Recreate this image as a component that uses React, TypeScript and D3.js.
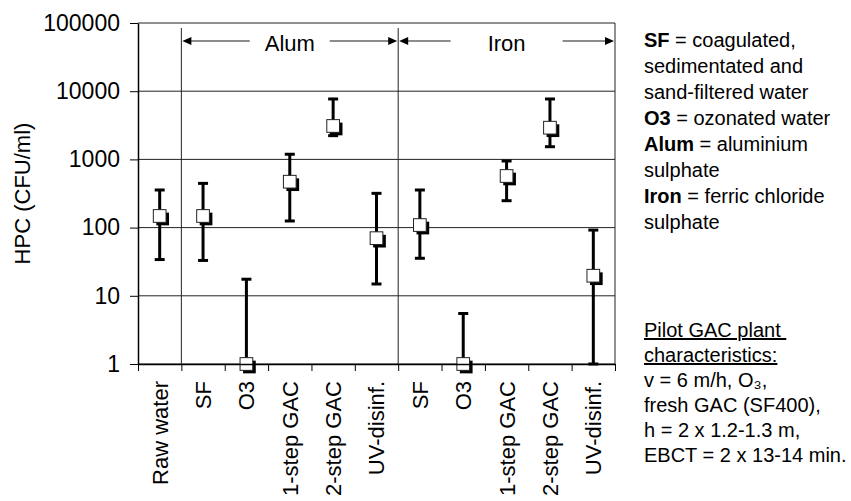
import { useRef, useEffect } from 'react';
import * as d3 from 'd3';

// HPC per treatment step (CFU/ml)
const CATEGORIES = ['Raw water', 'SF', 'O3', '1-step GAC', '2-step GAC', 'UV-disinf.', 'SF', 'O3', '1-step GAC', '2-step GAC', 'UV-disinf.'];
const MEANS = [148, 148, 1, 471, 3090, 70, 109, 1, 571, 2917, 19.7];
const UPPER = [356, 445, 17.5, 1190, 7690, 318, 356, 5.5, 948, 7690, 92];
const LOWER = [34, 33, 1, 125, 2230, 14.9, 35.5, 1, 248, 1535, 1];
const Y_TICKS = [1, 10, 100, 1000, 10000, 100000];

const GROUP_LABELS = ['Alum', 'Iron'];
const GROUP_START = [1, 6];
const GROUP_END = [6, 11];

const NOTES = [
  { bold: 'SF', text: ' = coagulated,' },
  { bold: '', text: 'sedimentated and' },
  { bold: '', text: 'sand-filtered water' },
  { bold: 'O3', text: ' = ozonated water' },
  { bold: 'Alum', text: ' = aluminium' },
  { bold: '', text: 'sulphate' },
  { bold: 'Iron', text: ' = ferric chloride' },
  { bold: '', text: 'sulphate' },
];
const PILOT_HEADER = ['Pilot GAC plant ', 'characteristics:'];
const PILOT_LINES = ['v = 6 m/h, O\u2083,', 'fresh GAC (SF400),', 'h = 2 x 1.2-1.3 m,', 'EBCT = 2 x 13-14 min.'];

const W = 851;
const H = 501;
const PLOT = { left: 138, right: 615, top: 23, bottom: 364 };
const FONT = 'Arial, "Liberation Sans", sans-serif';

export default function App() {
  const svgRef = useRef<SVGSVGElement>(null);

  useEffect(() => {
    const svg = svgRef.current;
    if (!svg) return;
    const root = d3.select(svg);
    root.selectAll('*').remove();

    const x = d3.scaleBand<number>().domain(d3.range(CATEGORIES.length)).range([PLOT.left, PLOT.right]);
    const xEdge = d3.scaleLinear().domain([0, CATEGORIES.length]).range([PLOT.left, PLOT.right]);
    const y = d3.scaleLog().domain([1, 100000]).range([PLOT.bottom, PLOT.top]);
    const cx = (i: number) => x(i)! + x.bandwidth() / 2;

    // Grid
    Y_TICKS.forEach(t => {
      root.append('line').attr('x1', PLOT.left).attr('x2', PLOT.right)
        .attr('y1', y(t)).attr('y2', y(t)).attr('stroke', '#222').attr('stroke-width', 1);
    });
    root.append('line').attr('x1', PLOT.right).attr('x2', PLOT.right)
      .attr('y1', PLOT.top).attr('y2', PLOT.bottom).attr('stroke', '#222');
    GROUP_START.forEach(s => {
      root.append('line').attr('x1', xEdge(s)).attr('x2', xEdge(s))
        .attr('y1', PLOT.top + 5).attr('y2', PLOT.bottom).attr('stroke', '#222');
    });

    // Group arrows
    const arrowY = 41;
    const gapHalf = [40, 56];
    GROUP_LABELS.forEach((label, gi) => {
      const x0 = xEdge(GROUP_START[gi]) + 1;
      const x1 = xEdge(GROUP_END[gi]) - 1;
      const mid = (x0 + x1) / 2;
      root.append('line').attr('x1', x0 + 8).attr('x2', mid - gapHalf[gi]).attr('y1', arrowY).attr('y2', arrowY)
        .attr('stroke', '#666').attr('stroke-width', 1.5);
      root.append('line').attr('x1', mid + gapHalf[gi]).attr('x2', x1 - 8).attr('y1', arrowY).attr('y2', arrowY)
        .attr('stroke', '#666').attr('stroke-width', 1.5);
      root.append('path').attr('d', `M${x0},${arrowY} l9,-4 v8 z`).attr('fill', '#000');
      root.append('path').attr('d', `M${x1},${arrowY} l-9,-4 v8 z`).attr('fill', '#000');
      root.append('text').attr('x', mid).attr('y', arrowY + 10).attr('text-anchor', 'middle')
        .attr('font-family', FONT).attr('font-size', '22px').attr('fill', '#000').text(label);
    });

    // Error bars
    const capW = 10;
    CATEGORIES.forEach((_, i) => {
      const c = cx(i);
      root.append('line').attr('x1', c).attr('x2', c).attr('y1', y(LOWER[i])).attr('y2', y(UPPER[i]))
        .attr('stroke', '#000').attr('stroke-width', 3);
      [LOWER[i], UPPER[i]].forEach(v => {
        root.append('line').attr('x1', c - capW / 2).attr('x2', c + capW / 2).attr('y1', y(v)).attr('y2', y(v))
          .attr('stroke', '#000').attr('stroke-width', 3);
      });
    });

    // Markers with drop shadow
    const m = 12.7;
    CATEGORIES.forEach((_, i) => {
      const c = cx(i);
      const cy = y(MEANS[i]);
      root.append('rect').attr('x', c - m / 2 + 3).attr('y', cy - m / 2 + 3).attr('width', m).attr('height', m).attr('fill', '#000');
      root.append('rect').attr('x', c - m / 2).attr('y', cy - m / 2).attr('width', m).attr('height', m)
        .attr('fill', '#fff').attr('stroke', '#222').attr('stroke-width', 1);
    });

    // Y axis
    const yAxis = d3.axisLeft(y).tickValues(Y_TICKS).tickSize(8).tickSizeOuter(0).tickPadding(10)
      .tickFormat(d => d3.format('d')(d as number));
    const yG = root.append('g').attr('transform', `translate(${PLOT.left},0)`).call(yAxis);
    yG.selectAll('text').attr('fill', '#000').attr('font-family', FONT).attr('font-size', '23px');
    yG.selectAll('line').attr('stroke', '#000');
    yG.select('.domain').attr('stroke', '#000').attr('stroke-width', 1.5);

    // X axis (ticks at category edges)
    const xAxis = d3.axisBottom(xEdge).tickValues(d3.range(CATEGORIES.length + 1)).tickSize(7).tickSizeOuter(0).tickFormat(() => '');
    const xG = root.append('g').attr('transform', `translate(0,${PLOT.bottom})`).call(xAxis);
    xG.selectAll('line').attr('stroke', '#000');
    xG.select('.domain').attr('stroke', '#000').attr('stroke-width', 1.5);

    CATEGORIES.forEach((label, i) => {
      root.append('text').attr('transform', `translate(${cx(i)},381) rotate(-90)`)
        .attr('text-anchor', 'end').attr('dy', '0.36em')
        .attr('font-family', FONT).attr('font-size', '22px').attr('fill', '#000').text(label);
    });

    // Y label
    root.append('text').attr('transform', `translate(22,${(PLOT.top + PLOT.bottom) / 2}) rotate(-90)`)
      .attr('text-anchor', 'middle').attr('dy', '0.36em')
      .attr('font-family', FONT).attr('font-size', '22px').attr('fill', '#000').text('HPC (CFU/ml)');

    // Notes
    const noteX = 644;
    NOTES.forEach((n, i) => {
      const t = root.append('text').attr('x', noteX).attr('y', 47 + i * 26)
        .attr('font-family', FONT).attr('font-size', '20px').attr('fill', '#000');
      if (n.bold) t.append('tspan').attr('font-weight', 'bold').text(n.bold);
      t.append('tspan').text(n.text);
    });
    PILOT_HEADER.forEach((s, i) => {
      root.append('text').attr('x', noteX).attr('y', 337 + i * 25).style('white-space', 'pre')
        .attr('text-decoration', 'underline')
        .attr('font-family', FONT).attr('font-size', '20px').attr('fill', '#000').text(s);
    });
    PILOT_LINES.forEach((s, i) => {
      root.append('text').attr('x', noteX).attr('y', 387 + i * 25)
        .attr('font-family', FONT).attr('font-size', '20px').attr('fill', '#000').text(s);
    });
  }, []);

  return (
    <div style={{ position: 'absolute', left: 0, top: 0, width: W, height: H, background: '#fff' }}>
      <svg ref={svgRef} width={W} height={H} style={{ display: 'block' }} />
    </div>
  );
}
